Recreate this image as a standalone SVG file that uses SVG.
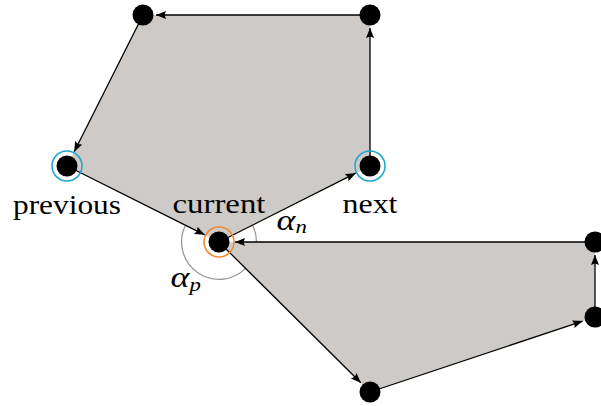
<svg xmlns="http://www.w3.org/2000/svg" width="601" height="406" viewBox="0 0 601 406">
<defs>
<marker id="arr" markerUnits="userSpaceOnUse" markerWidth="12" markerHeight="10" refX="10" refY="4" orient="auto">
<path d="M0,0 L10,4 L0,8 L1.5,4 Z" fill="#000"/>
</marker>
<style>
.face{fill:#cdcac7;stroke:none}
.angle{stroke:#9a9a9a;stroke-width:1.3;fill:none}
.edge{stroke:#000;stroke-width:1.3;fill:none}
.ring-c{fill:none;stroke:#19a6cd;stroke-width:1.5}
.ring-o{fill:none;stroke:#f08a2c;stroke-width:1.5}
</style>
</defs>
<rect width="601" height="406" fill="#fff"/>
<g id="faces">
<polygon class="face" points="143,15 370,15 370,166 219,242 67,166"/>
<polygon class="face" points="219,242 595,242 595,317 370,392"/>
</g>
<g id="angles">
<path class="angle" d="M252.5,225.1 A37.5,37.5 0 0 1 256.5,242"/>
<path class="angle" d="M185.5,225.2 A37.5,37.5 0 0 0 245.6,268.4"/>
</g>
<g id="connectors" class="edge" marker-end="url(#arr)">
<line x1="370" y1="15" x2="156" y2="15"/>
<line x1="143" y1="15" x2="74.2" y2="151.7"/>
<line x1="67" y1="166" x2="204.7" y2="234.8"/>
<line x1="219" y1="242" x2="355.7" y2="173.2"/>
<line x1="370" y1="166" x2="370" y2="28"/>
<line x1="595" y1="242" x2="235" y2="242"/>
<line x1="219" y1="242" x2="360.8" y2="382.8"/>
<line x1="370" y1="392" x2="582.7" y2="321.1"/>
<line x1="595" y1="317" x2="595" y2="255"/>
</g>
<g id="node-top-left"><circle cx="143" cy="15" r="10.5"/></g>
<g id="node-top-right"><circle cx="370" cy="15" r="10.5"/></g>
<g id="node-previous">
<circle class="ring-c" cx="67" cy="166" r="15"/>
<circle cx="67" cy="166" r="10.5"/>
<text x="67" y="214" font-family="Liberation Serif" font-size="27" text-anchor="middle" textLength="108" lengthAdjust="spacingAndGlyphs">previous</text>
</g>
<g id="node-next">
<circle class="ring-c" cx="370" cy="166" r="15"/>
<circle cx="370" cy="166" r="10.5"/>
<text x="370" y="213" font-family="Liberation Serif" font-size="27" text-anchor="middle" textLength="55" lengthAdjust="spacingAndGlyphs">next</text>
</g>
<g id="node-current">
<circle class="ring-o" cx="219" cy="242" r="15"/>
<circle cx="219" cy="242" r="10.5"/>
<text x="219" y="213" font-family="Liberation Serif" font-size="27" text-anchor="middle" textLength="93" lengthAdjust="spacingAndGlyphs">current</text>
</g>
<g id="node-right-top"><circle cx="595" cy="242" r="10.5"/></g>
<g id="node-right-bottom"><circle cx="595" cy="317" r="10.5"/></g>
<g id="node-bottom"><circle cx="370" cy="392" r="10.5"/></g>
<g id="angle-labels">
<text transform="translate(276.5,230) scale(1.2,1)" font-family="Liberation Serif" font-style="italic" font-size="30">α<tspan font-size="19" dy="3">n</tspan></text>
<text transform="translate(170.5,287) scale(1.2,1)" font-family="Liberation Serif" font-style="italic" font-size="30">α<tspan font-size="19" dy="4">p</tspan></text>
</g>
</svg>
